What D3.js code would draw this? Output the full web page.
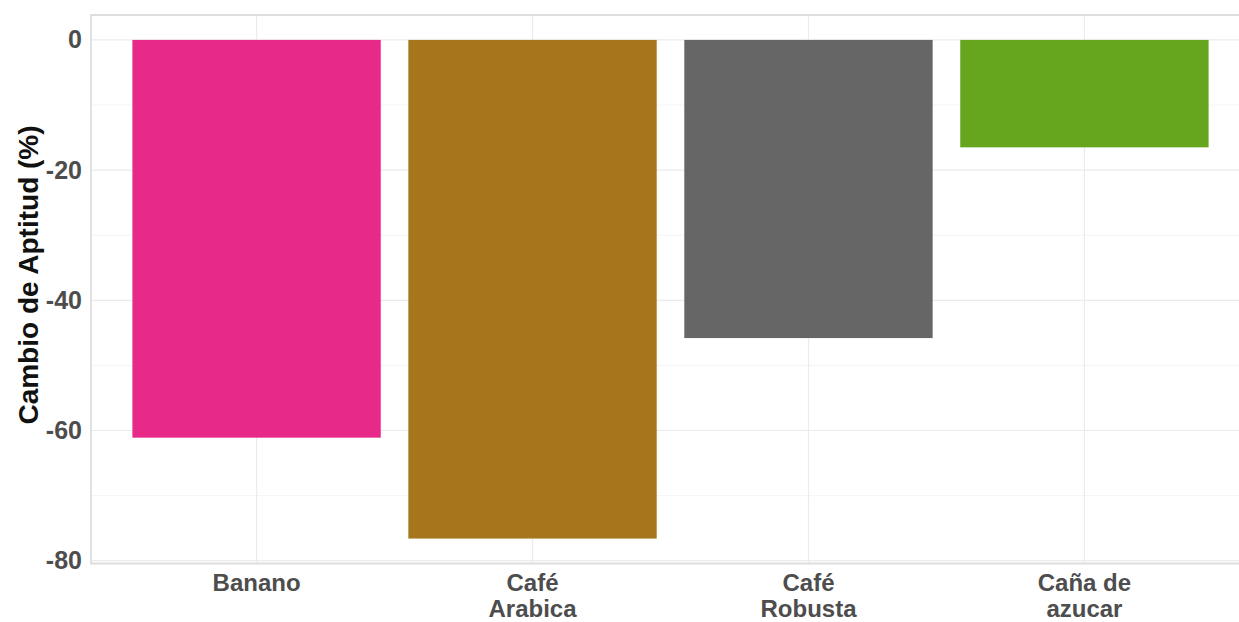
<!DOCTYPE html>
<html><head><meta charset="utf-8">
<script src="https://cdn.jsdelivr.net/npm/d3@7"></script>
<style>body{margin:0;background:#fff}svg{display:block}</style>
</head><body>
<svg id="c" width="1239" height="622"></svg>
<script>
const categories = ["Banano", "Café\nArabica", "Café\nRobusta", "Caña de\nazucar"];
const values = [-61.1, -76.6, -45.8, -16.5];
const colors = ["#E7298A", "#A6761D", "#666666", "#66A61E"];
const yTicks = [0, -20, -40, -60, -80];
const yMinor = [-10, -30, -50, -70];

(function () {
const svg = d3.select("#c");
const pLeft = 91, pRight = 1250, pTop = 15, pBottom = 563.5;

const x = d3.scaleBand().domain(categories).range([pLeft, pRight]).paddingInner(0.1).paddingOuter(0.15);
const y = d3.scaleLinear().domain([-80.43, 3.83]).range([pBottom, pTop]);

// minor grid
svg.append("g").selectAll("line").data(yMinor).join("line")
  .attr("x1", pLeft).attr("x2", 1239).attr("y1", d => y(d)).attr("y2", d => y(d))
  .attr("stroke", "#f4f4f4").attr("stroke-width", 1);
// major grid
svg.append("g").selectAll("line").data(yTicks).join("line")
  .attr("x1", pLeft).attr("x2", 1239).attr("y1", d => y(d)).attr("y2", d => y(d))
  .attr("stroke", "#ebebeb").attr("stroke-width", 1.2);
svg.append("g").selectAll("line").data(categories).join("line")
  .attr("x1", d => x(d) + x.bandwidth()/2).attr("x2", d => x(d) + x.bandwidth()/2)
  .attr("y1", pTop).attr("y2", pBottom)
  .attr("stroke", "#ebebeb").attr("stroke-width", 1.2);

// bars
svg.append("g").selectAll("rect").data(categories).join("rect")
  .attr("x", d => x(d)).attr("width", x.bandwidth())
  .attr("y", y(0)).attr("height", (d, i) => y(values[i]) - y(0))
  .attr("fill", (d, i) => colors[i]);

// panel border
svg.append("path")
  .attr("d", `M1239,${pTop}H${pLeft}V${pBottom}H1239`)
  .attr("fill", "none").attr("stroke", "#dedede").attr("stroke-width", 1.8);

// y axis
const yAxis = d3.axisLeft(y).tickValues(yTicks).tickFormat(d => String(d)).tickSize(0).tickPadding(9);
const gy = svg.append("g").attr("transform", `translate(${pLeft},0)`).call(yAxis);
gy.select(".domain").remove();
gy.selectAll("text").attr("font-family", "Liberation Sans, Arial, sans-serif")
  .attr("font-weight", "bold").attr("font-size", 25).attr("fill", "#4d4d4d");

// x axis
const xAxis = d3.axisBottom(x).tickSize(0).tickFormat("");
const gx = svg.append("g").attr("transform", `translate(0,${pBottom})`).call(xAxis);
gx.select(".domain").remove();
gx.selectAll(".tick").each(function(d) {
  const lines = d.split("\n");
  const t = d3.select(this).append("text")
    .attr("font-family", "Liberation Sans, Arial, sans-serif")
    .attr("font-weight", "bold").attr("font-size", 24).attr("fill", "#4d4d4d")
    .attr("text-anchor", "middle");
  lines.forEach((l, i) => t.append("tspan").attr("x", 0).attr("y", 27 + i * 26).text(l));
});

// y title
svg.append("text")
  .attr("transform", `translate(38,275) rotate(-90)`)
  .attr("text-anchor", "middle")
  .attr("font-family", "Liberation Sans, Arial, sans-serif")
  .attr("font-weight", "bold").attr("font-size", 28).attr("fill", "#111")
  .text("Cambio de Aptitud (%)");
})();
</script>
</body></html>
